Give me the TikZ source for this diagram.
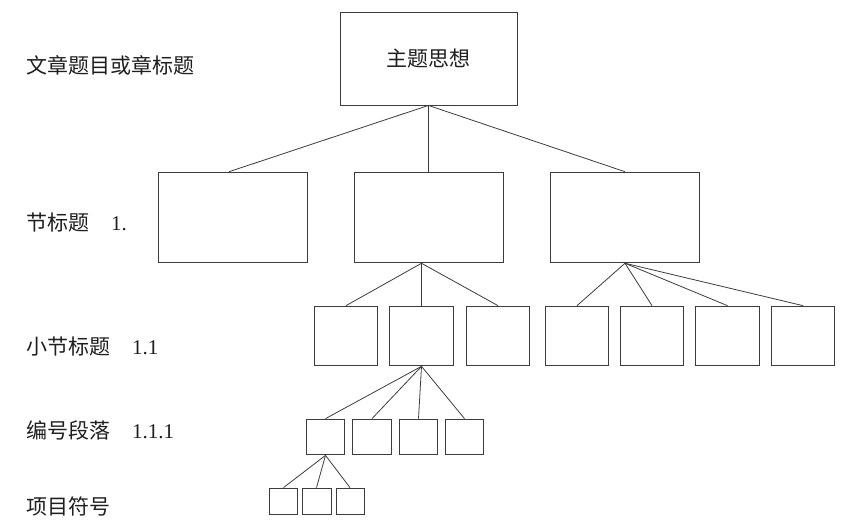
\documentclass[tikz,border=0pt]{standalone}
\usepackage{fontspec}
\setmainfont{Liberation Serif}
\newfontfamily\cjk{Noto Sans CJK SC}
\definecolor{ln}{RGB}{60,60,60}
\definecolor{tx}{RGB}{30,30,30}
\begin{document}
\begin{tikzpicture}[x=1bp,y=-1bp,
  box/.style={draw=ln,line width=0.9bp,inner sep=0pt,rectangle},
  link/.style={draw=ln,line width=0.8bp},
  lbl/.style={anchor=west,inner sep=0pt,text=tx,font=\fontsize{21bp}{25bp}\selectfont}]
\useasboundingbox (0,0) rectangle (856,524);
% boxes
\newcommand{\bx}[5]{\node[box,minimum width=#4-#2,minimum height=#5-#3] (#1) at ({(#2+#4)/2},{(#3+#5)/2}) {};}
\node[box,minimum width=177bp,minimum height=93bp,text=tx,font=\fontsize{21bp}{25bp}\selectfont\cjk] (top) at (428.5,58.5) {主题思想};
\bx{s1}{158}{172}{308}{263}
\bx{s2}{354}{172}{504}{263}
\bx{s3}{550}{172}{700}{263}
\bx{A}{314}{306}{378}{366}
\bx{B}{389}{306}{454}{366}
\bx{C}{466}{306}{530}{366}
\bx{D}{545}{306}{609}{366}
\bx{E}{620}{306}{684}{366}
\bx{F}{695}{306}{760}{366}
\bx{G}{771}{306}{835}{366}
\bx{a}{306}{419}{345}{455}
\bx{b}{352}{419}{392}{455}
\bx{c}{399}{419}{438}{455}
\bx{d}{445}{419}{484}{455}
\bx{i}{269}{488}{298}{514}
\bx{ii}{302}{488}{331}{514}
\bx{iii}{336}{488}{364}{514}
% connectors
\draw[link] (top.south) -- ([xshift=-4bp]s1.north);
\draw[link] (top.south) -- (s2.north -| top.south);
\draw[link] (top.south) -- (s3.north);
\coordinate (h2) at (B.north |- s2.south);
\draw[link] (h2) -- (A.north);
\draw[link] (h2) -- (B.north);
\draw[link] (h2) -- (C.north);
\draw[link] (s3.south) -- (D.north);
\draw[link] (s3.south) -- (E.north);
\draw[link] (s3.south) -- (F.north);
\draw[link] (s3.south) -- (G.north);
\draw[link] (B.south) -- (a.north);
\draw[link] (B.south) -- (b.north);
\draw[link] (B.south) -- (c.north);
\draw[link] (B.south) -- (d.north);
\draw[link] (a.south) -- (i.north);
\draw[link] (a.south) -- (ii.north);
\draw[link] (a.south) -- (iii.north);
% labels
\node[lbl] (l1) at (26,65) {\cjk 文章题目或章标题};
\node[lbl] (l2) at (26,223) {{\cjk 节标题}\hspace{22bp}1.};
\node[lbl] (l3) at (26,347) {{\cjk 小节标题}\hspace{22bp}1.1};
\node[lbl] (l4) at (26,430) {{\cjk 编号段落}\hspace{22bp}1.1.1};
\node[lbl] (l5) at (26,506) {\cjk 项目符号};
\end{tikzpicture}
\end{document}
